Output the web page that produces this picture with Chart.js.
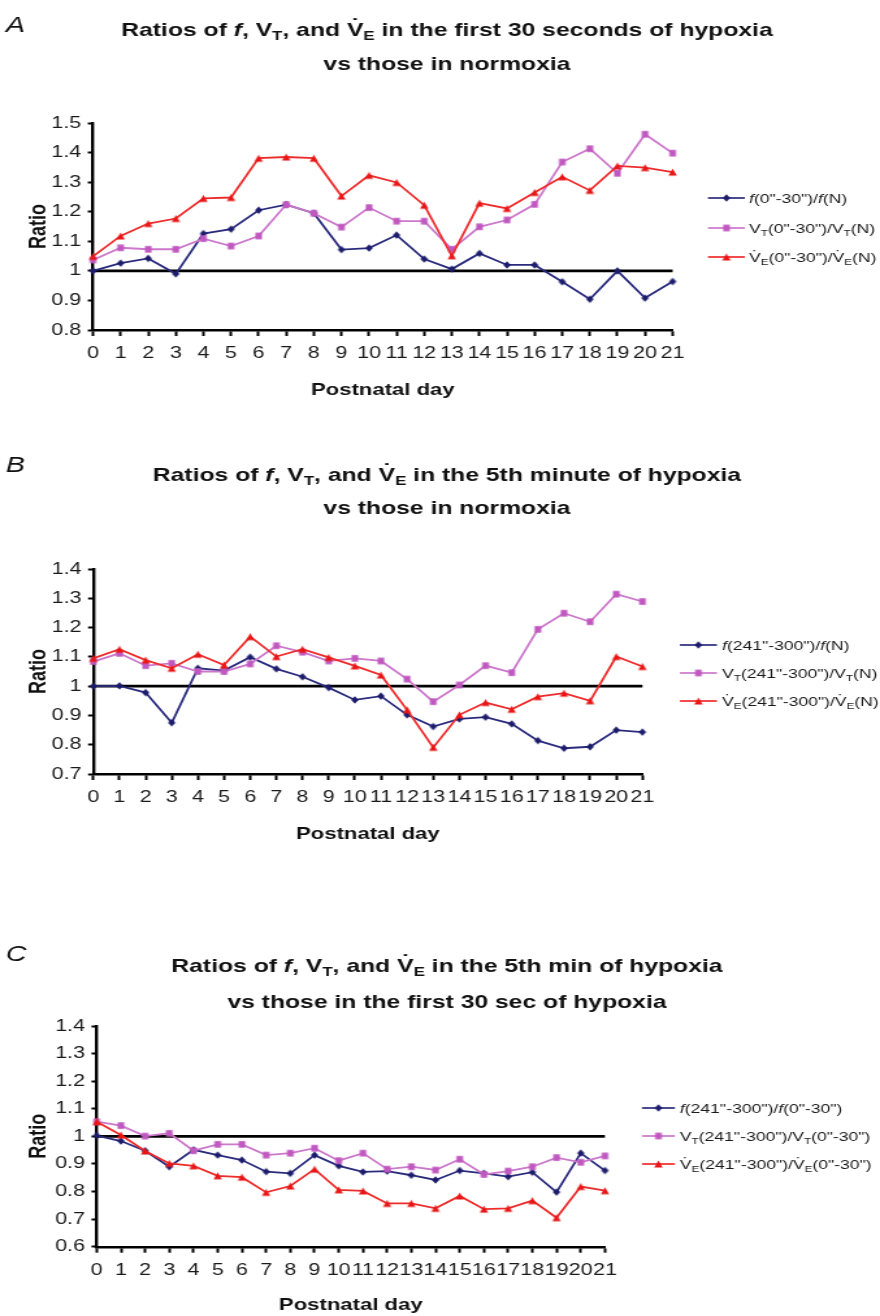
<!DOCTYPE html>
<html>
<head>
<meta charset="utf-8">
<title>Ventilatory ratios during hypoxia by postnatal day</title>
<script src="https://cdn.jsdelivr.net/npm/chart.js@4.4.1/dist/chart.umd.min.js"></script>
<style>
  html, body { margin: 0; padding: 0; background: #ffffff; }
  #page { position: relative; width: 880px; height: 1316px; overflow: hidden; background: #ffffff; }
  /* each panel is drawn on a narrower backing canvas and shown widened to 880px */
  #page canvas { position: absolute; left: 0; width: 880px; }
</style>
</head>
<body>
<div id="page">
  <canvas id="panelA" width="677" height="430" style="top:0px;height:430px"></canvas>
  <canvas id="panelB" width="677" height="420" style="top:430px;height:420px"></canvas>
  <canvas id="panelC" width="677" height="466" style="top:850px;height:466px"></canvas>
</div>
<script>
// ---------------- data ----------------
const postnatalDays = ['0','1','2','3','4','5','6','7','8','9','10','11','12','13','14','15','16','17','18','19','20','21'];
const referenceRatio = 1;

// A: first 30 s of hypoxia vs normoxia
const fEarlyVsNormoxia  = [1.000, 1.026, 1.042, 0.990, 1.126, 1.141, 1.205, 1.224, 1.195, 1.072, 1.077, 1.121, 1.040, 1.006, 1.059, 1.020, 1.020, 0.963, 0.904, 1.000, 0.908, 0.964];
const vtEarlyVsNormoxia = [1.037, 1.078, 1.073, 1.073, 1.109, 1.084, 1.118, 1.224, 1.195, 1.148, 1.214, 1.168, 1.168, 1.073, 1.149, 1.172, 1.225, 1.368, 1.413, 1.330, 1.462, 1.398];
const veEarlyVsNormoxia = [1.049, 1.118, 1.160, 1.177, 1.245, 1.248, 1.381, 1.385, 1.381, 1.253, 1.323, 1.299, 1.222, 1.051, 1.229, 1.211, 1.265, 1.318, 1.272, 1.355, 1.349, 1.334];

// B: 5th minute of hypoxia vs normoxia
const fLateVsNormoxia  = [1.000, 1.001, 0.978, 0.875, 1.061, 1.053, 1.099, 1.059, 1.032, 0.995, 0.953, 0.966, 0.902, 0.862, 0.888, 0.894, 0.871, 0.814, 0.788, 0.793, 0.850, 0.843];
const vtLateVsNormoxia = [1.084, 1.112, 1.070, 1.078, 1.050, 1.050, 1.076, 1.138, 1.116, 1.086, 1.095, 1.086, 1.024, 0.947, 1.004, 1.070, 1.046, 1.194, 1.249, 1.220, 1.314, 1.289];
const veLateVsNormoxia = [1.095, 1.126, 1.089, 1.061, 1.109, 1.072, 1.169, 1.101, 1.126, 1.098, 1.069, 1.038, 0.919, 0.791, 0.902, 0.944, 0.921, 0.964, 0.976, 0.950, 1.101, 1.067];

// C: 5th minute vs first 30 s of hypoxia
const fLateVsEarly  = [1.003, 0.983, 0.948, 0.890, 0.951, 0.932, 0.914, 0.872, 0.866, 0.932, 0.893, 0.871, 0.874, 0.859, 0.842, 0.876, 0.866, 0.854, 0.870, 0.798, 0.939, 0.876];
const vtLateVsEarly = [1.053, 1.039, 1.001, 1.011, 0.948, 0.971, 0.971, 0.932, 0.939, 0.957, 0.912, 0.939, 0.881, 0.890, 0.878, 0.917, 0.862, 0.874, 0.890, 0.923, 0.906, 0.929];
const veLateVsEarly = [1.053, 1.005, 0.947, 0.902, 0.893, 0.857, 0.852, 0.797, 0.820, 0.881, 0.806, 0.802, 0.757, 0.757, 0.739, 0.784, 0.736, 0.739, 0.767, 0.705, 0.818, 0.803];

// Text (markup: *x* italic, _X subscript, ^V dotted V)
const titleA = ['Ratios of *f*, V_T, and ^V_E in the first 30 seconds of hypoxia', 'vs those in normoxia'];
const titleB = ['Ratios of *f*, V_T, and ^V_E in the 5th minute of hypoxia', 'vs those in normoxia'];
const titleC = ['Ratios of *f*, V_T, and ^V_E in the 5th min of hypoxia', 'vs those in the first 30 sec of hypoxia'];
const legendA = ['*f*(0"-30")/*f*(N)', 'V_T(0"-30")/V_T(N)', '^V_E(0"-30")/^V_E(N)'];
const legendB = ['*f*(241"-300")/*f*(N)', 'V_T(241"-300")/V_T(N)', '^V_E(241"-300")/^V_E(N)'];
const legendC = ['*f*(241"-300")/*f*(0"-30")', 'V_T(241"-300")/V_T(0"-30")', '^V_E(241"-300")/^V_E(0"-30")'];
const yAxisTitle = 'Ratio';
const xAxisTitle = 'Postnatal day';

// ---------------- styling ----------------
const WIDEN = 1.3;               // display width / backing width of each canvas
const CANVAS_W = 677;            // backing width (880 / WIDEN)
const px = v => v / WIDEN;       // page x -> backing x

const FAMILY = '"Liberation Sans", Arial, Helvetica, sans-serif';
Chart.defaults.font.family = FAMILY;
Chart.defaults.color = '#1a1a1a';

// Marker sprites are pre-narrowed so they look regular once the canvas is widened.
function makeMarker(shape, wPage, hPage, color) {
  const hw = wPage / WIDEN / 2, hh = hPage / 2;
  const c = document.createElement('canvas');
  c.width = Math.ceil(hw * 2) + 2;
  c.height = Math.ceil(hh * 2) + 2;
  const g = c.getContext('2d');
  const cx = c.width / 2, cy = c.height / 2;
  g.fillStyle = color;
  g.beginPath();
  if (shape === 'square') {
    g.rect(cx - hw, cy - hh, hw * 2, hh * 2);
  } else if (shape === 'diamond') {
    g.moveTo(cx, cy - hh); g.lineTo(cx + hw, cy); g.lineTo(cx, cy + hh); g.lineTo(cx - hw, cy);
  } else {
    g.moveTo(cx, cy - hh); g.lineTo(cx + hw, cy + hh); g.lineTo(cx - hw, cy + hh);
  }
  g.closePath();
  g.fill();
  return c;
}

const seriesStyles = [
  { line: '#2b2b7e', marker: makeMarker('diamond', 7.5, 7.5, '#1c1c6c') },
  { line: '#cc78cc', marker: makeMarker('square',  6.6, 6.6, '#c058c0') },
  { line: '#ee2c2c', marker: makeMarker('triangle', 8.4, 7.2, '#e81616') }
];

const TICK_SIZE = 16.5, XTITLE_SIZE = 17, YTITLE_SIZE = 18, LINE_H = 1.2;
const HEAD_SIZE = 19, LEGEND_SIZE = 13.5;

// ---------------- rich text helpers ----------------
function parseRich(s) {
  const runs = [];
  let buf = '', i = 0;
  const flush = () => { if (buf) { runs.push({ t: buf }); buf = ''; } };
  while (i < s.length) {
    const c = s[i];
    if (c === '*') {
      flush();
      const j = s.indexOf('*', i + 1);
      runs.push({ t: s.slice(i + 1, j), it: true });
      i = j + 1;
    } else if (c === '_') {
      flush(); runs.push({ t: s[i + 1], sub: true }); i += 2;
    } else if (c === '^') {
      flush(); runs.push({ t: s[i + 1], dot: true }); i += 2;
    } else { buf += c; i++; }
  }
  flush();
  return runs;
}

function drawRich(ctx, markup, x, yCenter, size, weight, align, color) {
  const runs = parseRich(markup);
  const fontFor = r => (r.it ? 'italic ' : '') + weight + ' ' + (r.sub ? Math.round(size * 0.7) : size) + 'px ' + FAMILY;
  const widths = runs.map(r => { ctx.font = fontFor(r); return ctx.measureText(r.t).width; });
  const total = widths.reduce((a, b) => a + b, 0);
  let cx = align === 'center' ? x - total / 2 : x;
  const base = yCenter + size * 0.36;
  ctx.save();
  ctx.fillStyle = color;
  ctx.textBaseline = 'alphabetic';
  runs.forEach((r, k) => {
    ctx.font = fontFor(r);
    ctx.textAlign = 'left';
    ctx.fillText(r.t, cx, r.sub ? base + size * 0.2 : base);
    if (r.dot) {
      ctx.textAlign = 'center';
      ctx.fillText('\u02D9', cx + widths[k] / 2, base - size * 0.2);
    }
    cx += widths[k];
  });
  ctx.restore();
}

// ---------------- plugins ----------------
const unityLine = {
  id: 'unityLine',
  beforeDatasetsDraw(chart) {
    const { ctx, chartArea, scales } = chart;
    const py = scales.y.getPixelForValue(referenceRatio);
    ctx.save();
    ctx.strokeStyle = '#000';
    ctx.lineWidth = 2.6;
    ctx.beginPath();
    ctx.moveTo(chartArea.left, py);
    ctx.lineTo(chartArea.right, py);
    ctx.stroke();
    ctx.restore();
  }
};

const panelDecor = {
  id: 'panelDecor',
  afterDraw(chart, args, opts) {
    const ctx = chart.ctx;
    // panel letter
    ctx.save();
    ctx.fillStyle = '#111';
    ctx.font = 'italic 400 22px ' + FAMILY;
    ctx.textBaseline = 'middle';
    ctx.textAlign = 'left';
    ctx.fillText(opts.letter, px(6), opts.letterY);
    ctx.restore();
    // two-line heading
    opts.title.forEach((line, k) => drawRich(ctx, line, opts.titleX, opts.titleY[k], HEAD_SIZE, 'bold', 'center', '#111'));
    // legend
    chart.data.datasets.forEach((ds, k) => {
      const st = seriesStyles[k];
      const y = opts.legendRows[k];
      const [x0, x1] = opts.legendLine;
      ctx.save();
      ctx.strokeStyle = st.line;
      ctx.lineWidth = 1.7;
      ctx.beginPath(); ctx.moveTo(x0, y); ctx.lineTo(x1, y); ctx.stroke();
      const m = st.marker;
      ctx.drawImage(m, (x0 + x1) / 2 - m.width / 2, y - m.height / 2);
      ctx.restore();
      drawRich(ctx, opts.legend[k], opts.legendText, y, LEGEND_SIZE, 'normal', 'left', '#1a1a1a');
    });
  }
};

// ---------------- panels (x positions given in page pixels) ----------------
const panels = [
  { id: 'panelA', letter: 'A', title: titleA, legend: legendA,
    series: [fEarlyVsNormoxia, vtEarlyVsNormoxia, veEarlyVsNormoxia],
    yMin: 0.8, yMax: 1.5, canvasH: 430,
    area: { left: 93, top: 123, right: 672.7, bottom: 330 },
    titleX: 447, titleY: [29, 63], letterY: 26, xTitleY: 390,
    legendRows: [198, 228, 257], legendLine: [708, 745], legendText: 749 },
  { id: 'panelB', letter: 'B', title: titleB, legend: legendB,
    series: [fLateVsNormoxia, vtLateVsNormoxia, veLateVsNormoxia],
    yMin: 0.7, yMax: 1.4, canvasH: 420,
    area: { left: 93.3, top: 139, right: 642.5, bottom: 344 },
    titleX: 447, titleY: [44, 77], letterY: 36, xTitleY: 404,
    legendRows: [215, 243, 271], legendLine: [680, 717], legendText: 722 },
  { id: 'panelC', letter: 'C', title: titleC, legend: legendC,
    series: [fLateVsEarly, vtLateVsEarly, veLateVsEarly],
    yMin: 0.6, yMax: 1.4, canvasH: 466,
    area: { left: 96.7, top: 176, right: 605, bottom: 396.7 },
    titleX: 447, titleY: [115, 151], letterY: 105, xTitleY: 455,
    legendRows: [258, 286, 314], legendLine: [642, 675], legendText: 680 }
];

const xGrid = { display: true, drawOnChartArea: false, drawTicks: true, tickLength: 6, tickWidth: 2, tickColor: '#000' };
const yGrid = { display: true, drawOnChartArea: false, drawTicks: true, tickLength: 4, tickWidth: 2, tickColor: '#000' };
const axisBorder = { display: true, color: '#000', width: 2.4 };

panels.forEach(p => {
  const xAxisHeight = p.xTitleY + XTITLE_SIZE * LINE_H / 2 - p.area.bottom;
  const padLeft = px(38.5) - YTITLE_SIZE * LINE_H / 2;
  const left = px(p.area.left), right = px(p.area.right);
  new Chart(document.getElementById(p.id), {
    type: 'line',
    data: {
      labels: postnatalDays,
      datasets: p.series.map((values, k) => ({
        data: values,
        borderColor: seriesStyles[k].line,
        backgroundColor: seriesStyles[k].line,
        pointStyle: seriesStyles[k].marker,
        pointRadius: 4,
        borderWidth: 1.8,
        tension: 0,
        clip: false,
        order: 3 - k
      }))
    },
    options: {
      responsive: false,
      animation: false,
      devicePixelRatio: 1,
      events: [],
      layout: { padding: { left: padLeft, top: p.area.top, right: CANVAS_W - right, bottom: p.canvasH - p.area.bottom - xAxisHeight } },
      plugins: {
        legend: { display: false },
        tooltip: { enabled: false },
        panelDecor: { letter: p.letter, letterY: p.letterY, title: p.title, titleX: px(p.titleX), titleY: p.titleY,
                      legend: p.legend, legendRows: p.legendRows,
                      legendLine: [px(p.legendLine[0]), px(p.legendLine[1])], legendText: px(p.legendText) }
      },
      scales: {
        x: {
          type: 'category',
          offset: false,
          grid: xGrid,
          border: axisBorder,
          ticks: { autoSkip: false, maxRotation: 0, minRotation: 0, padding: 8, color: '#1a1a1a', font: { size: TICK_SIZE } },
          title: { display: true, text: xAxisTitle, color: '#111', padding: 0, font: { size: XTITLE_SIZE, weight: 'bold' } },
          afterFit(scale) { scale.height = xAxisHeight; }
        },
        y: {
          type: 'linear',
          min: p.yMin,
          max: p.yMax,
          grid: yGrid,
          border: axisBorder,
          ticks: { stepSize: 0.1, padding: 5, color: '#1a1a1a', font: { size: TICK_SIZE },
                   callback: v => String(Number(v.toFixed(1))) },
          title: { display: true, text: yAxisTitle, color: '#111', padding: 0, font: { size: YTITLE_SIZE, weight: 'bold' } },
          afterFit(scale) { scale.width = left - padLeft; }
        }
      }
    },
    plugins: [unityLine, panelDecor]
  });
});
</script>
</body>
</html>
